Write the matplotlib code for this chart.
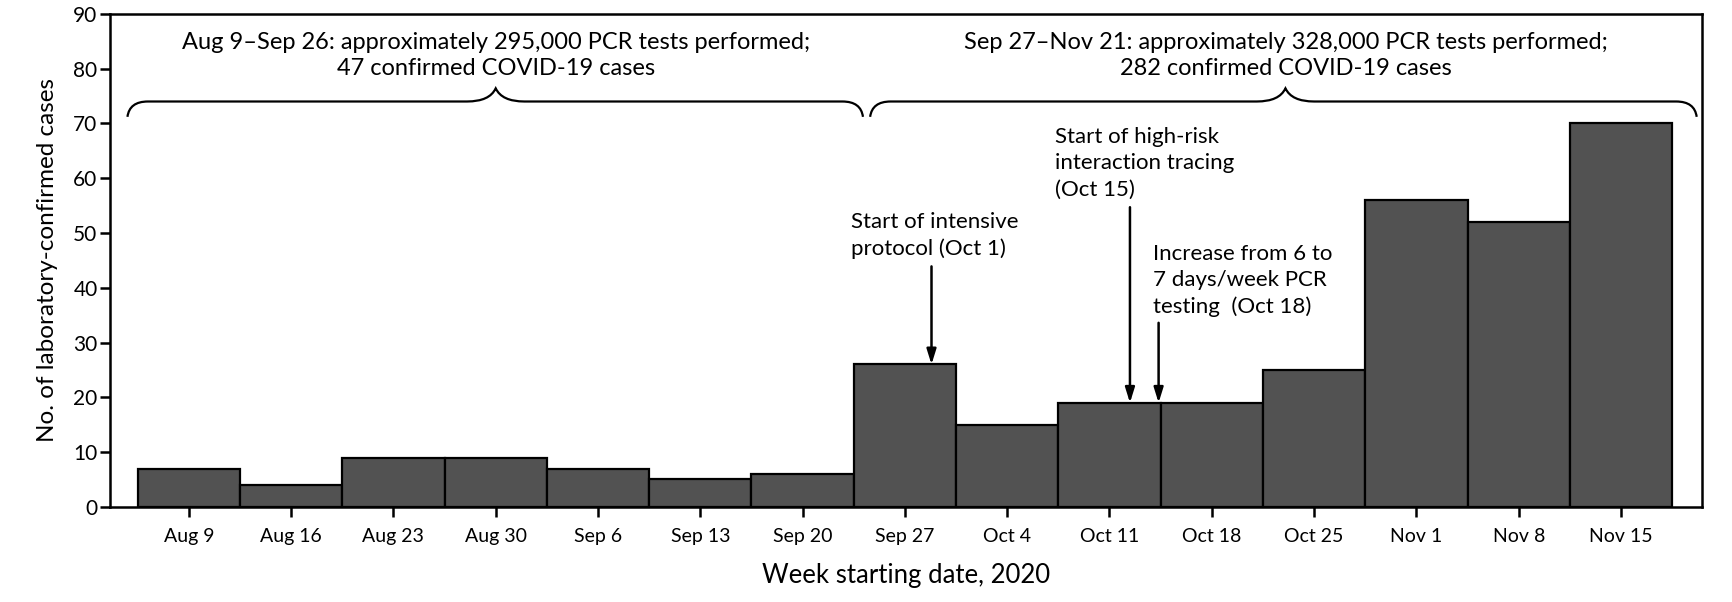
import numpy as np
import matplotlib
matplotlib.use("Agg")
import matplotlib.pyplot as plt
from matplotlib.path import Path
from matplotlib.patches import PathPatch

plt.rcParams['font.family'] = ['Lato', 'DejaVu Sans']

# weekly case counts
weeks = ["Aug 9", "Aug 16", "Aug 23", "Aug 30", "Sep 6", "Sep 13", "Sep 20",
         "Sep 27", "Oct 4", "Oct 11", "Oct 18", "Oct 25", "Nov 1", "Nov 8", "Nov 15"]
cases = [7, 4, 9, 9, 7, 5, 6, 26, 15, 19, 19, 25, 56, 52, 70]

# period brackets: (start, end, tip, text)
bracket_start = [-0.6, 6.66]
bracket_end = [6.59, 14.74]
bracket_tip = [3.0, 10.72]
bracket_text = ["Aug 9\u2013Sep 26: approximately 295,000 PCR tests performed;\n47 confirmed COVID-19 cases",
                "Sep 27\u2013Nov 21: approximately 328,000 PCR tests performed;\n282 confirmed COVID-19 cases"]

# event arrows
event_text = ["Start of intensive\nprotocol (Oct 1)",
              "Start of high-risk\ninteraction tracing\n(Oct 15)",
              "Increase from 6 to\n7 days/week PCR\ntesting  (Oct 18)"]
event_x = [7.26, 9.20, 9.48]
event_bar = [7, 9, 10]
event_text_x = [6.47, 8.47, 9.43]
event_text_y = [49.6, 62.7, 41.3]
event_arrow_top = [43.9, 54.7, 33.6]

fig = plt.figure(figsize=(17.33, 6.02), dpi=100)
ax = fig.add_axes([0.0635, 0.158, 0.9185, 0.819])

x = np.arange(len(weeks))
ax.bar(x, cases, width=1.0, color="#525252", edgecolor="black", linewidth=1.6)

ax.set_xlim(-0.77, 14.79)
ax.set_ylim(0, 90)
ax.set_yticks(range(0, 91, 10))
ax.set_xticks(x)
ax.set_xticklabels(weeks, fontsize=14)
ax.tick_params(axis="y", labelsize=15, length=7, width=1.8, pad=2)
ax.tick_params(axis="x", length=7, width=1.8, pad=8)
for s in ax.spines.values():
    s.set_linewidth(1.8)

ax.set_xlabel("Week starting date, 2020", fontsize=18.5, labelpad=13)
ax.set_ylabel("No. of laboratory-confirmed cases", fontsize=17.5, labelpad=11)


def brace(x0, x1, xm, y, hook=2.8, hw=0.2, tip=2.4, tw=0.28):
    verts = [(x0, y - hook), (x0 + 0.02, y), (x0 + hw, y),
             (xm - tw, y), (xm - 0.06, y), (xm, y + tip),
             (xm + 0.06, y), (xm + tw, y),
             (x1 - hw, y), (x1 - 0.02, y), (x1, y - hook)]
    codes = [Path.MOVETO, Path.CURVE3, Path.CURVE3,
             Path.LINETO, Path.CURVE3, Path.CURVE3,
             Path.CURVE3, Path.CURVE3,
             Path.LINETO, Path.CURVE3, Path.CURVE3]
    ax.add_patch(PathPatch(Path(verts, codes), fill=False, lw=1.6,
                           edgecolor="black", clip_on=False))


for x0, x1, xm, t in zip(bracket_start, bracket_end, bracket_tip, bracket_text):
    brace(x0, x1, xm, 74.0)
    ax.text(xm, 82.4, t, ha="center", va="center", fontsize=17, linespacing=1.3)

for t, xa, b, tx, ty, top in zip(event_text, event_x, event_bar, event_text_x,
                                 event_text_y, event_arrow_top):
    ax.text(tx, ty, t, ha="left", va="center", fontsize=16, linespacing=1.38)
    ax.annotate("", xy=(xa, cases[b]), xytext=(xa, top),
                arrowprops=dict(arrowstyle="-|>,head_length=0.9,head_width=0.28",
                                color="black", lw=1.8, shrinkA=0, shrinkB=0))

fig.savefig("out.png", dpi=100)
